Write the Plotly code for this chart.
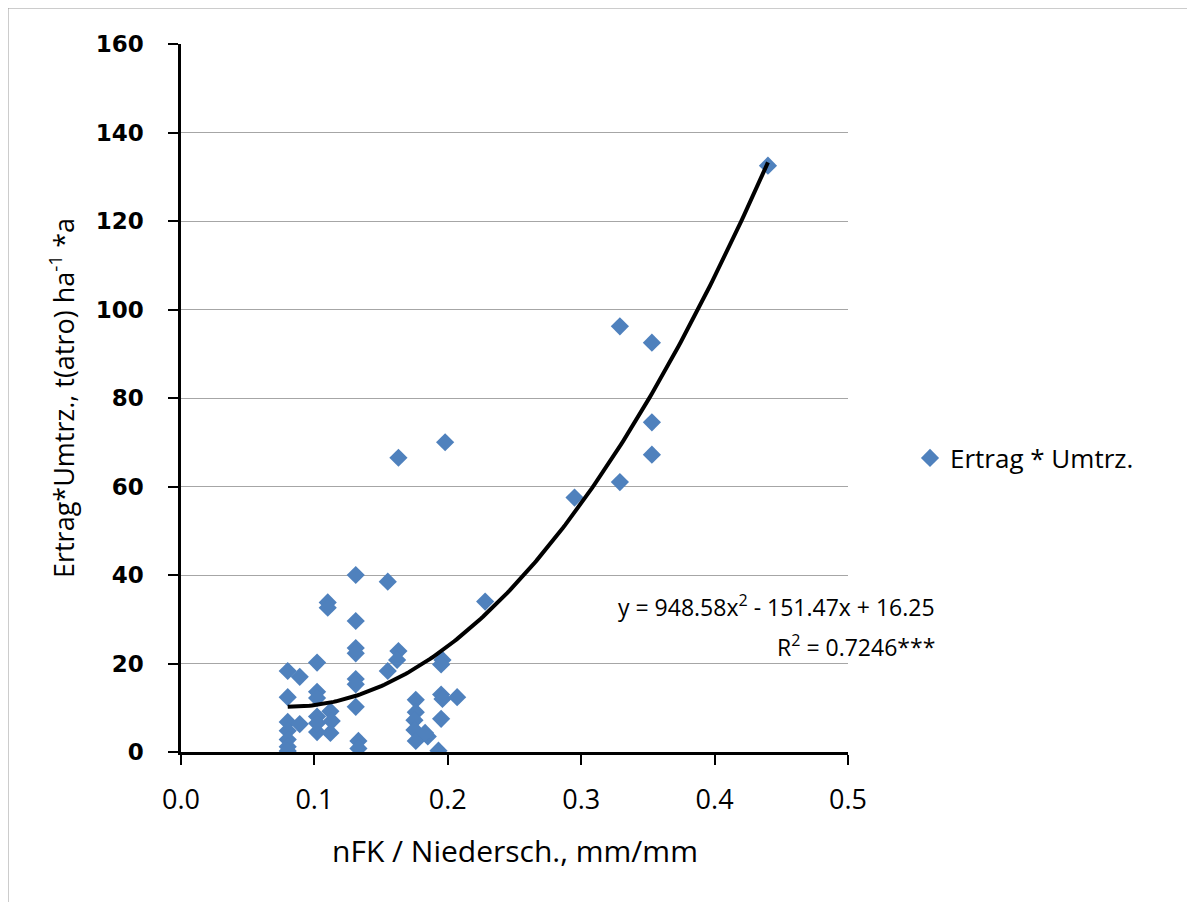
import numpy as np
import plotly.graph_objects as go

# Data
x_vals = [0.08, 0.08, 0.08, 0.08, 0.08, 0.08, 0.08,
          0.089, 0.089,
          0.102, 0.102, 0.102, 0.102, 0.102, 0.102,
          0.110, 0.110, 0.112, 0.112, 0.113,
          0.131, 0.131, 0.131, 0.131, 0.131, 0.131, 0.131, 0.133, 0.133,
          0.155, 0.155,
          0.163, 0.163, 0.162,
          0.176, 0.176, 0.175, 0.175, 0.176,
          0.185, 0.183,
          0.198, 0.196, 0.195, 0.195, 0.196, 0.195, 0.193,
          0.207,
          0.228, 0.295, 0.329, 0.329, 0.353, 0.353, 0.353, 0.440]
y_vals = [18.3, 12.4, 6.8, 4.8, 2.8, 1.2, 0.2,
          17.0, 6.3,
          20.2, 13.6, 12.2, 8.0, 4.5, 6.5,
          33.8, 32.6, 9.2, 4.3, 7.0,
          40.0, 29.6, 23.5, 22.3, 16.5, 15.3, 10.2, 2.5, 0.8,
          38.5, 18.3,
          66.5, 22.8, 20.8,
          11.8, 9.0, 7.2, 5.0, 2.5,
          3.5, 4.3,
          70.0, 20.8, 19.8, 13.0, 12.0, 7.5, 0.3,
          12.4,
          34.0, 57.5, 96.2, 61.0, 92.5, 74.5, 67.2, 132.5]

# Quadratic trend (as labelled in the chart)
coef_a, coef_b, coef_c = 948.58, -151.47, 16.25
eq_text = "y = 948.58x<sup>2</sup> - 151.47x + 16.25"
r2_text = "R<sup>2</sup> = 0.7246***"
series_name = "Ertrag * Umtrz."
x_title = "nFK / Niedersch., mm/mm"
y_title = "Ertrag*Umtrz., t(atro) ha<sup>-1</sup> *a"
x_ticks = [0.0, 0.1, 0.2, 0.3, 0.4, 0.5]
y_ticks = [0, 20, 40, 60, 80, 100, 120, 140, 160]

tx = np.linspace(min(x_vals), max(x_vals), 200)
ty = coef_a * tx**2 + coef_b * tx + coef_c

# figure is placed at page offset (8, 8) by the html body margin
L, T, W, H = 173, 36, 667, 708

def px(xp):
    return (xp - 8 - L) / W

def py(yp):
    return (T + H - (yp - 8)) / H

fig = go.Figure()
fig.add_trace(go.Scatter(
    x=x_vals, y=y_vals, mode="markers", name=series_name,
    marker=dict(symbol="diamond", size=14, color="#4F81BD", line=dict(width=0)),
))
fig.add_trace(go.Scatter(
    x=tx, y=ty, mode="lines", showlegend=False,
    line=dict(color="black", width=4),
))

fig.update_layout(
    width=1195, height=902,
    margin=dict(l=L, r=1195 - L - W, t=T, b=902 - T - H),
    paper_bgcolor="white", plot_bgcolor="white",
    font=dict(family="Open Sans", color="black"),
    showlegend=True,
    legend=dict(x=px(910), y=py(458), xanchor="left", yanchor="middle",
                font=dict(family="Open Sans", size=26, color="black"),
                bgcolor="rgba(0,0,0,0)", itemwidth=30),
    xaxis=dict(range=[0, 0.5], tickvals=x_ticks, ticktext=[f"{v:.1f}" for v in x_ticks],
               showgrid=False, zeroline=False, showline=True, linecolor="black",
               linewidth=2.5, ticks="outside", ticklen=10, tickwidth=2, tickcolor="black",
               ticklabelstandoff=12,
               tickfont=dict(family="Open Sans", size=27, color="black")),
    yaxis=dict(range=[0, 160], tickvals=y_ticks,
               showgrid=True, gridcolor="#A6A6A6", gridwidth=1.2, zeroline=False,
               showline=True, linecolor="black", linewidth=2.5,
               ticks="outside", ticklen=10, tickwidth=2, tickcolor="black",
               ticklabelstandoff=20,
               tickfont=dict(family="DejaVu Sans", size=23, color="black", weight="bold"),
               title=dict(text=y_title, font=dict(family="Open Sans", size=27, color="black"),
                          standoff=14)),
    shapes=[
        dict(type="line", xref="paper", yref="paper",
             x0=px(7), x1=px(1210), y0=py(7.5), y1=py(7.5),
             line=dict(color="#9A9A9A", width=2)),
        dict(type="line", xref="paper", yref="paper",
             x0=px(7.5), x1=px(7.5), y0=py(7), y1=py(920),
             line=dict(color="#9A9A9A", width=2)),
    ],
    annotations=[
        dict(text=x_title, xref="paper", yref="paper",
             x=0.5, y=py(850), xanchor="center", yanchor="middle",
             showarrow=False, font=dict(family="Open Sans", size=30, color="black")),
        dict(text=eq_text, xref="paper", yref="paper",
             x=px(937), y=py(606), xanchor="right", yanchor="middle",
             showarrow=False, font=dict(family="Open Sans", size=23, color="black")),
        dict(text=r2_text, xref="paper", yref="paper",
             x=px(937), y=py(646), xanchor="right", yanchor="middle",
             showarrow=False, font=dict(family="Open Sans", size=23, color="black")),
    ],
)

fig.write_html("out.html")
